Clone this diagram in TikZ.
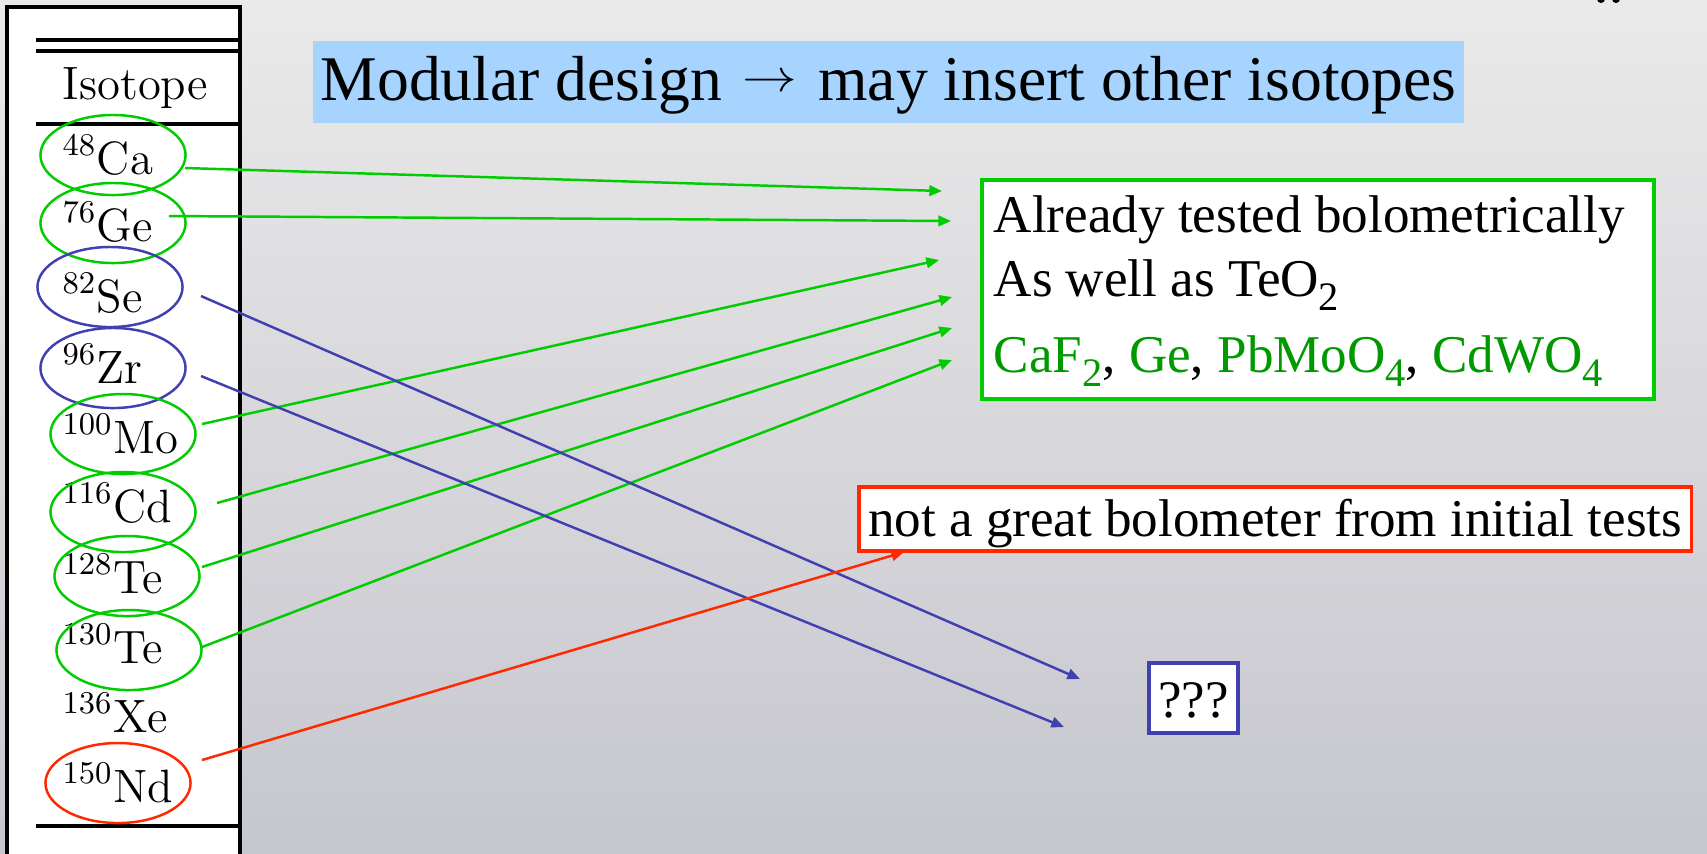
\documentclass[tikz,border=0pt]{standalone}
\usepackage{fontspec}
\usetikzlibrary{arrows.meta,shapes.geometric}
\newfontfamily\timesfont{Liberation Serif}

\definecolor{isogreen}{RGB}{0,204,0}
\definecolor{textgreen}{RGB}{0,153,0}
\definecolor{isoblue}{RGB}{64,64,176}
\definecolor{isored}{RGB}{255,40,0}
\definecolor{titleblue}{RGB}{166,212,255}
\definecolor{bgtop}{RGB}{234,234,234}
\definecolor{bgbot}{RGB}{198,198,206}

\newcommand{\lowsub}[1]{\raisebox{-4pt}{\fontsize{11.5}{12}\selectfont #1}}
\newcommand{\thinarrow}{\kern1.4pt\raisebox{2.3pt}{\scalebox{0.9}[0.75]{$\rightarrow$}}\kern1.4pt}

\begin{document}
\begin{tikzpicture}[
    x=0.01cm, y=-0.01cm,
    >={Triangle[length=3.6pt,width=3pt]},
    isotope/.style={anchor=base west, inner sep=0pt, font=\fontsize{13.3}{16}\selectfont},
    ring/.style={ellipse, draw, line width=0.7pt, inner sep=0pt,
        minimum width=1.45cm, minimum height=0.8cm},
    line/.style={anchor=base west, inner sep=0pt, font=\timesfont\fontsize{15.1}{18}\selectfont},
    link/.style={->, line width=0.7pt},
    rule/.style={line width=1.1pt}
]

% Fons
\useasboundingbox (0,0) rectangle (1707,853);
\shade[top color=bgtop, bottom color=bgbot] (0,0) rectangle (1707,853);
\fill (1601,-1) circle (0.04cm);
\fill (1616,-1) circle (0.04cm);

% Taula
\draw[
    line width=0.9pt,
    fill=white
] (7,7) rectangle (240,880);
\draw[rule] (36,40) -- (240,40);
\draw[rule] (36,51) -- (240,51);
\draw[rule] (36,124) -- (240,124);
\draw[rule] (36,826) -- (240,826);
\node[isotope] (head) at (62,99) {Isotope};

% Isotops
\node[isotope] (ca) at (62,174) {$^{48}$Ca};
\node[isotope] (ge) at (62,241) {$^{76}$Ge};
\node[isotope] (se) at (62,312) {$^{82}$Se};
\node[isotope] (zr) at (62,383) {$^{96}$Zr};
\node[isotope] (mo) at (62,453) {$^{100}$Mo};
\node[isotope] (cd) at (62,522) {$^{116}$Cd};
\node[isotope] (tea) at (62,593) {$^{128}$Te};
\node[isotope] (teb) at (62,663) {$^{130}$Te};
\node[isotope] (xe) at (62,732) {$^{136}$Xe};
\node[isotope] (nd) at (62,802) {$^{150}$Nd};

% Cercles
\node[ring, draw=isogreen] (ca-ring) at (113,155) {};
\node[ring, draw=isogreen] (ge-ring) at (113,223) {};
\node[ring, draw=isoblue] (se-ring) at (110,287) {};
\node[ring, draw=isoblue] (zr-ring) at (113,368) {};
\node[ring, draw=isogreen] (mo-ring) at (123,434) {};
\node[ring, draw=isogreen] (cd-ring) at (123,512) {};
\node[ring, draw=isogreen] (tea-ring) at (127,576) {};
\node[ring, draw=isogreen] (teb-ring) at (129,650) {};
\node[ring, draw=isored] (nd-ring) at (118,783) {};

% Titol
\node[
    fill=titleblue,
    inner sep=0pt,
    minimum width=11.51cm,
    text height=0.59cm,
    text depth=0.23cm,
    font=\timesfont\fontsize{18.1}{20}\selectfont
] (title) at (888.5,82) {Modular design \thinarrow\ may insert other isotopes};

% Caixa verda
\node[
    anchor=north west,
    draw=isogreen,
    line width=1pt,
    fill=white,
    inner sep=0pt,
    minimum width=6.72cm,
    minimum height=2.19cm
] (tested) at (980,178) {};
\node[line] (tested-a) at (993,232) {Already tested bolometrically};
\node[line] (tested-b) at (993,296) {As well as TeO\lowsub{2}};
\node[line] (tested-c) at (993,372) {{\color{textgreen}CaF\lowsub{2}}, {\color{textgreen}Ge},
    {\color{textgreen}PbMoO\lowsub{4}}, {\color{textgreen}CdWO\lowsub{4}}};

% Caixa vermella
\node[
    anchor=north west,
    draw=isored,
    line width=1pt,
    fill=white,
    inner sep=0pt,
    minimum width=8.32cm,
    text height=0.50cm,
    text depth=0.14cm,
    font=\timesfont\fontsize{15.1}{18}\selectfont
] (bolo) at (857,485) {not a great bolometer from initial tests};

% Caixa blava
\node[
    draw=isoblue,
    line width=1pt,
    fill=white,
    inner sep=0pt,
    minimum width=0.89cm,
    text height=0.54cm,
    text depth=0.16cm,
    font=\timesfont\fontsize{15}{18}\selectfont
] (unknown) at (1193.5,698) {???};

% Extrems de les fletxes
\coordinate (ca-a) at (185,168);
\coordinate (ca-b) at (942,191);
\coordinate (ge-a) at (169,216);
\coordinate (ge-b) at (951,221);
\coordinate (mo-a) at (202,424);
\coordinate (mo-b) at (939,260);
\coordinate (cd-a) at (217,503);
\coordinate (cd-b) at (952,297);
\coordinate (tea-a) at (202,567);
\coordinate (tea-b) at (952,328);
\coordinate (teb-a) at (202,647);
\coordinate (teb-b) at (952,360);
\coordinate (se-a) at (201,296);
\coordinate (se-b) at (1080,679);
\coordinate (zr-a) at (201,376);
\coordinate (zr-b) at (1064,727);
\coordinate (nd-a) at (202,760);
\coordinate (nd-b) at (904,552);

% Fletxes verdes
\draw[link, isogreen] (ca-a) -- (ca-b);
\draw[link, isogreen] (ge-a) -- (ge-b);
\draw[link, isogreen] (mo-a) -- (mo-b);
\draw[link, isogreen] (cd-a) -- (cd-b);
\draw[link, isogreen] (tea-a) -- (tea-b);
\draw[link, isogreen] (teb-a) -- (teb-b);

% Fletxes blaves
\draw[link, isoblue] (se-a) -- (se-b);
\draw[link, isoblue] (zr-a) -- (zr-b);

% Fletxa vermella
\draw[link, isored] (nd-a) -- (nd-b);

\end{tikzpicture}
\end{document}
